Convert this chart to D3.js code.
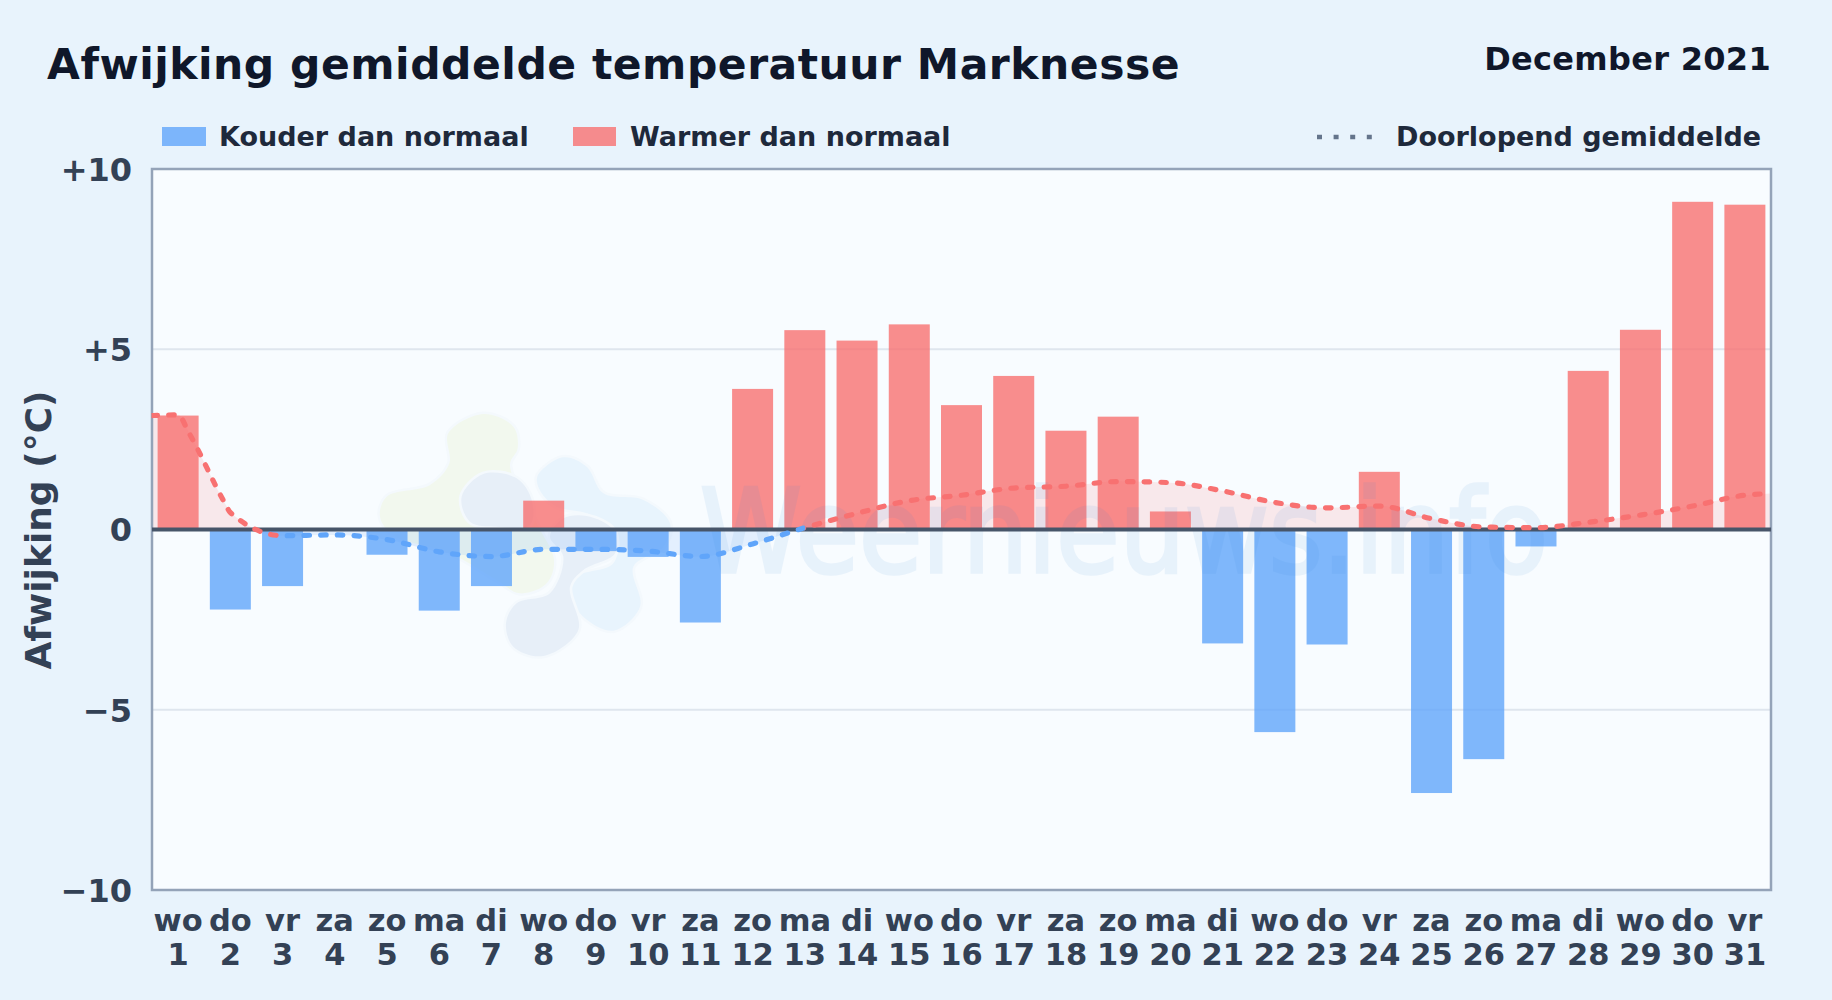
<!DOCTYPE html>
<html><head><meta charset="utf-8">
<script src="https://cdn.jsdelivr.net/npm/d3@7/dist/d3.min.js"></script>
<style>
html,body{margin:0;padding:0;background:#e8f3fc;overflow:hidden}
svg{display:block}
text{font-family:"DejaVu Sans",sans-serif;font-weight:700}
</style></head><body>
<svg id="c" width="1832" height="1000"></svg>
<script>
const weekdays=["wo","do","vr","za","zo","ma","di","wo","do","vr","za","zo","ma","di","wo","do","vr","za","zo","ma","di","wo","do","vr","za","zo","ma","di","wo","do","vr"];
const days=d3.range(1,32);
const deviation=[3.16,-2.22,-1.57,0,-0.7,-2.25,-1.57,0.8,-0.6,-0.76,-2.58,3.9,5.53,5.24,5.69,3.45,4.26,2.74,3.13,0.5,-3.16,-5.62,-3.19,1.6,-7.31,-6.37,-0.47,4.4,5.54,9.09,9.01];
const avgDays=[0.5,1,1.2,1.9,2,3,4,5,6,7,8,9,10,11,12,13,14,15,16,17,18,19,20,21,22,23,24,25,26,27,28,29,30,31,31.5];
const avgValues=[3.16,3.18,2.7,0.72,0.47,-0.17,-0.15,-0.28,-0.62,-0.75,-0.55,-0.55,-0.6,-0.75,-0.4,0.05,0.45,0.8,0.95,1.15,1.2,1.33,1.3,1.07,0.75,0.6,0.65,0.3,0.07,0.05,0.2,0.4,0.65,0.95,1.0];
const yTicks=[-10,-5,0,5,10];
const legendItems=["Kouder dan normaal","Warmer dan normaal","Doorlopend gemiddelde"];
const titleText="Afwijking gemiddelde temperatuur Marknesse";
const periodText="December 2021";
const yTitle="Afwijking (°C)";
const wmText="Weernieuws.info";

const L=152,R=1771,T=169,B=890;
const RED="#f87171",BLUE="#60a5fa";
const svg=d3.select("#c");
const x=d3.scaleBand().domain(days).range([L,R]).paddingInner(0.215).paddingOuter(0.1075);
const xl=d3.scaleLinear().domain([0.5,31.5]).range([L,R]);
const y=d3.scaleLinear().domain([-10,10]).range([B,T]);

const defs=svg.append("defs");
defs.append("clipPath").attr("id","plot").append("rect").attr("x",L).attr("y",T).attr("width",R-L).attr("height",B-T);
defs.append("clipPath").attr("id","above").append("rect").attr("x",L).attr("y",T).attr("width",R-L).attr("height",y(0)-T);
defs.append("clipPath").attr("id","below").append("rect").attr("x",L).attr("y",y(0)).attr("width",R-L).attr("height",B-y(0));
// line colour follows the sign of each segment's starting value
const segClip=(id,test)=>{
  const c=defs.append("clipPath").attr("id",id);
  avgDays.slice(0,-1).forEach((d,i)=>{
    if(test(avgValues[i])) c.append("rect").attr("x",xl(d)-0.5).attr("y",0).attr("width",xl(avgDays[i+1])-xl(d)+1).attr("height",1000);
  });
};
segClip("lineRed",v=>v>=0);
segClip("lineBlue",v=>v<0);

svg.append("rect").attr("x",L).attr("y",T).attr("width",R-L).attr("height",B-T).attr("fill","#f8fcff");

const wm=svg.append("g").attr("clip-path","url(#plot)");
const blob=d3.line().curve(d3.curveCatmullRomClosed.alpha(0.5)).x(d=>350+d[0]/3).y(d=>390+d[1]/3);
const blobs=[
 {c:"#f2f8ee",p:[[295,130],[400,72],[490,110],[503,175],[480,225],[560,400],[612,510],[590,580],[510,610],[440,570],[300,490],[130,435],[90,380],[110,320],[240,285],[298,220]]},
 {c:"#e7eff8",p:[[335,320],[400,252],[500,265],[545,330],[540,405],[440,410],[360,395]]},
 {c:"#e8f4fd",p:[[562,260],[640,202],[710,230],[760,310],[880,330],[960,400],[940,470],[850,530],[870,650],[790,722],[700,680],[660,610],[680,560],[790,520],[800,420],[710,370],[620,350],[575,310]]},
 {c:"#e7eff8",p:[[640,385],[710,378],[790,420],[795,490],[700,540],[660,590],[685,720],[580,798],[490,770],[468,700],[500,640],[600,610],[640,500],[600,440]]}
];
wm.selectAll("path").data(blobs).join("path").attr("d",d=>blob(d.p)).attr("fill",d=>d.c)
 .attr("stroke","#f4f9fd").attr("stroke-width",5).attr("paint-order","stroke");

svg.append("g").selectAll("line").data(yTicks.filter(d=>Math.abs(d)===5)).join("line")
 .attr("x1",L).attr("x2",R).attr("y1",d=>y(d)).attr("y2",d=>y(d)).attr("stroke","#dfe6ee").attr("stroke-width",2);

svg.append("g").selectAll("rect").data(days.filter((d,i)=>deviation[i]!==0)).join("rect")
 .attr("x",d=>x(d)).attr("width",x.bandwidth())
 .attr("y",d=>Math.min(y(0),y(deviation[d-1])))
 .attr("height",d=>Math.abs(y(deviation[d-1])-y(0)))
 .attr("fill",d=>deviation[d-1]>0?RED:BLUE).attr("fill-opacity",0.8);

const pts=avgDays.map((d,i)=>[d,avgValues[i]]);
const curve=d3.curveMonotoneX;
const area=d3.area().x(d=>xl(d[0])).y0(y(0)).y1(d=>y(d[1])).curve(curve);
const line=d3.line().x(d=>xl(d[0])).y(d=>y(d[1])).curve(curve);
[["above",RED],["below",BLUE]].forEach(([id,col])=>{
  svg.append("path").attr("clip-path",`url(#${id})`).attr("d",area(pts)).attr("fill",col).attr("fill-opacity",0.14);
});

svg.append("g").attr("clip-path","url(#plot)").attr("opacity",0.08).append("text")
 .attr("x",700).attr("y",572).attr("textLength",848).attr("lengthAdjust","spacingAndGlyphs")
 .style("font-family","'DejaVu Sans',sans-serif").style("font-weight",400).style("font-size","116px")
 .attr("fill","#2f86d8").attr("stroke","#2f86d8").attr("stroke-width",3.5).text(wmText);

svg.append("rect").attr("x",L).attr("y",T).attr("width",R-L).attr("height",B-T).attr("fill","none").attr("stroke","#94a3b8").attr("stroke-width",2.5);
svg.append("line").attr("x1",L).attr("x2",R).attr("y1",y(0)).attr("y2",y(0)).attr("stroke","#475569").attr("stroke-width",4);

[["lineRed",RED],["lineBlue",BLUE]].forEach(([id,col])=>{
  svg.append("g").attr("clip-path",`url(#${id})`).append("path").attr("d",line(pts)).attr("fill","none").attr("stroke",col)
   .attr("stroke-width",5.2).attr("stroke-linecap","round").attr("stroke-dasharray","5.5 11.2");
});

const fmt=d=>d>0?"+"+d:d<0?"\u2212"+(-d):"0";
const ya=svg.append("g").attr("transform",`translate(${L},1)`).call(d3.axisLeft(y).tickValues(yTicks).tickFormat(fmt).tickSize(0).tickPadding(20));
ya.select(".domain").remove();
ya.selectAll("text").attr("fill","#334155").style("font-size","32px");
const xa=svg.append("g").attr("transform",`translate(0,${B})`).call(d3.axisBottom(x).tickValues(days).tickSize(0).tickFormat(""));
xa.select(".domain").remove();
xa.selectAll("text").attr("fill","#334155").style("font-size","30.5px").attr("dy",null).attr("y",null).each(function(d,i){
  const t=d3.select(this);
  t.append("tspan").attr("x",0).attr("y",41).text(weekdays[i]);
  t.append("tspan").attr("x",0).attr("y",75).text(d);
});

svg.append("text").attr("x",47).attr("y",79).attr("fill","#0f172a").style("font-size","42.5px").style("letter-spacing","0.5px").text(titleText);
svg.append("text").attr("x",1771).attr("y",70).attr("text-anchor","end").attr("fill","#0f172a").style("font-size","32px").style("letter-spacing","0.3px").text(periodText);
svg.append("text").attr("transform","translate(51,530) rotate(-90)").attr("text-anchor","middle").attr("fill","#334155").style("font-size","36px").text(yTitle);

const lg=svg.append("g");
lg.append("rect").attr("x",162).attr("y",127).attr("width",44).attr("height",19).attr("fill",BLUE).attr("fill-opacity",0.8);
lg.append("rect").attr("x",573).attr("y",127).attr("width",43).attr("height",19).attr("fill",RED).attr("fill-opacity",0.8);
lg.append("line").attr("x1",1317).attr("x2",1374).attr("y1",137).attr("y2",137).attr("stroke","#64748b").attr("stroke-width",4.5).attr("stroke-dasharray","5 11.6");
[[219,legendItems[0]],[630,legendItems[1]],[1396,legendItems[2]]].forEach(([xx,t])=>{
  lg.append("text").attr("x",xx).attr("y",146).attr("fill","#1e293b").style("font-size","27px").text(t);
});
</script></body></html>
